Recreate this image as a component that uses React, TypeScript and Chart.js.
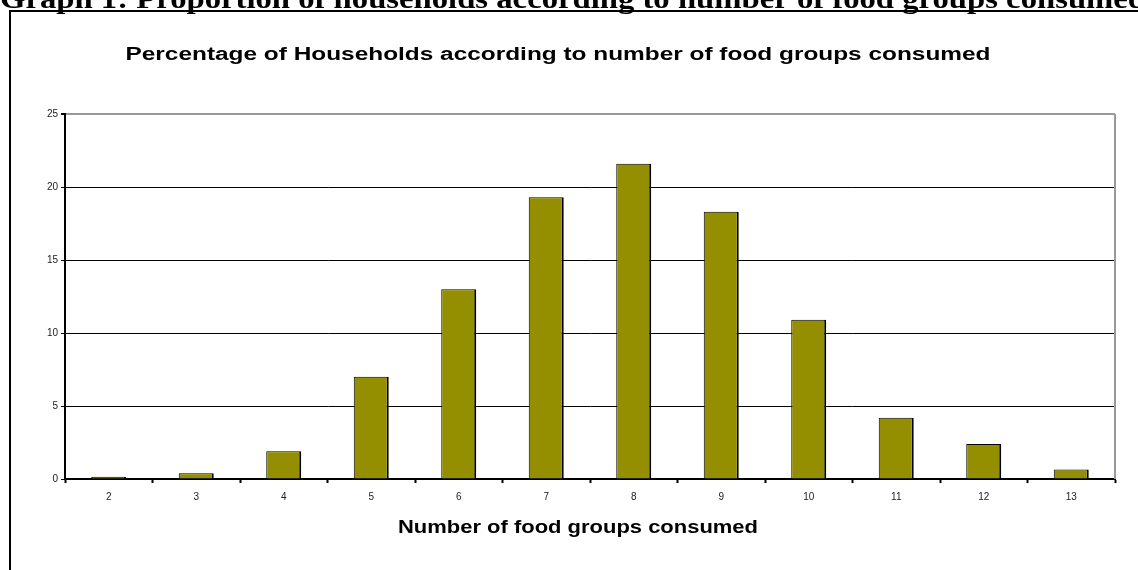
import { useEffect, useRef } from "react";
import { Chart, registerables } from "chart.js";

Chart.register(...registerables);

// Number of food groups consumed (categories) and share of households (%)
const categories = ["2", "3", "4", "5", "6", "7", "8", "9", "10", "11", "12", "13"];
const households = [0.15, 0.4, 1.9, 7.0, 13.0, 19.3, 21.6, 18.3, 10.9, 4.2, 2.4, 0.65];
const yTicks = [0, 5, 10, 15, 20, 25];

const pageHeading = "Graph 1: Proportion of households according to number of food groups consumed";
const chartTitle = "Percentage of Households according to number of food groups consumed";
const xAxisTitle = "Number of food groups consumed";

const BAR_FILL = "#948f00";
const SANS = "'Liberation Sans', Arial, sans-serif";
const SERIF = "'Liberation Serif', 'Times New Roman', serif";

// Draws a line of text widened horizontally to a given width
function drawWideText(
  ctx: CanvasRenderingContext2D,
  text: string,
  font: string,
  x: number,
  y: number,
  width: number,
  align: "left" | "center"
) {
  ctx.save();
  ctx.font = font;
  const natural = ctx.measureText(text).width;
  const sx = width / natural;
  ctx.translate(x, y);
  ctx.scale(sx, 1);
  ctx.textAlign = align;
  ctx.fillText(text, 0, 0);
  ctx.restore();
}

// Page heading, chart-area frame and titles drawn on the same canvas
const framePlugin = {
  id: "frame",
  beforeDraw(chart: Chart) {
    const { ctx, width, height } = chart;
    ctx.save();
    ctx.fillStyle = "#fff";
    ctx.fillRect(0, 0, width, height);

    ctx.fillStyle = "#000";
    ctx.textBaseline = "alphabetic";
    drawWideText(ctx, pageHeading, `bold 28px ${SERIF}`, 0, 8, 1146, "left");

    ctx.strokeStyle = "#000";
    ctx.lineWidth = 2;
    ctx.beginPath();
    ctx.moveTo(10, height + 5);
    ctx.lineTo(10, 11);
    ctx.lineTo(width + 5, 11);
    ctx.stroke();

    ctx.textBaseline = "middle";
    drawWideText(ctx, chartTitle, `bold 18px ${SANS}`, 558, 55, 865, "center");
    drawWideText(ctx, xAxisTitle, `bold 18px ${SANS}`, 578, 528, 360, "center");
    ctx.restore();
  },
  afterDraw(chart: Chart) {
    const { ctx, chartArea } = chart;
    ctx.save();
    ctx.strokeStyle = "#999";
    ctx.lineWidth = 2;
    ctx.beginPath();
    ctx.moveTo(chartArea.right, chartArea.bottom);
    ctx.lineTo(chartArea.right, chartArea.top);
    ctx.stroke();
    ctx.restore();
  },
};

export default function App() {
  const canvasRef = useRef<HTMLCanvasElement | null>(null);

  useEffect(() => {
    document.body.style.margin = "0";
    const canvas = canvasRef.current;
    if (!canvas) return;

    const chart = new Chart(canvas, {
      type: "bar",
      data: {
        labels: categories,
        datasets: [
          {
            data: households,
            backgroundColor: BAR_FILL,
            borderColor: "#000",
            borderWidth: { top: 1, left: 1, right: 2, bottom: 0 },
            borderSkipped: false,
            categoryPercentage: 1,
            barPercentage: 0.4,
          },
        ],
      },
      options: {
        animation: false,
        responsive: false,
        maintainAspectRatio: false,
        devicePixelRatio: 1,
        layout: { padding: { left: 15, top: 114, right: 23, bottom: 0 } },
        plugins: {
          legend: { display: false },
          tooltip: { enabled: false },
          title: { display: false },
        },
        scales: {
          x: {
            offset: true,
            grid: {
              offset: true,
              drawOnChartArea: false,
              drawTicks: true,
              tickLength: 4,
              tickColor: "#000",
              tickWidth: 2,
            },
            border: { display: true, color: "#000", width: 2 },
            ticks: {
              color: "#222",
              font: { family: SANS, size: 10 },
              padding: 8,
            },
            afterFit: (scale: any) => {
              scale.height = 91;
            },
          },
          y: {
            min: 0,
            max: 25,
            afterBuildTicks: (scale: any) => {
              scale.ticks = yTicks.map((v) => ({ value: v }));
            },
            grid: {
              color: (c: any) => (c.tick && c.tick.value === 25 ? "#999" : "#000"),
              lineWidth: (c: any) => (c.tick && c.tick.value === 25 ? 2 : 1),
              drawTicks: true,
              tickLength: 4,
              tickColor: "#000",
            },
            border: { display: true, color: "#000", width: 2 },
            ticks: {
              color: "#222",
              font: { family: SANS, size: 10 },
              padding: 3,
            },
            afterFit: (scale: any) => {
              scale.width = 50;
            },
          },
        },
      },
      plugins: [framePlugin],
    });

    return () => chart.destroy();
  }, []);

  return (
    <div style={{ position: "fixed", left: 0, top: 0, width: 1138, height: 570, background: "#fff" }}>
      <canvas ref={canvasRef} width={1138} height={570} style={{ width: 1138, height: 570, display: "block" }} />
    </div>
  );
}
